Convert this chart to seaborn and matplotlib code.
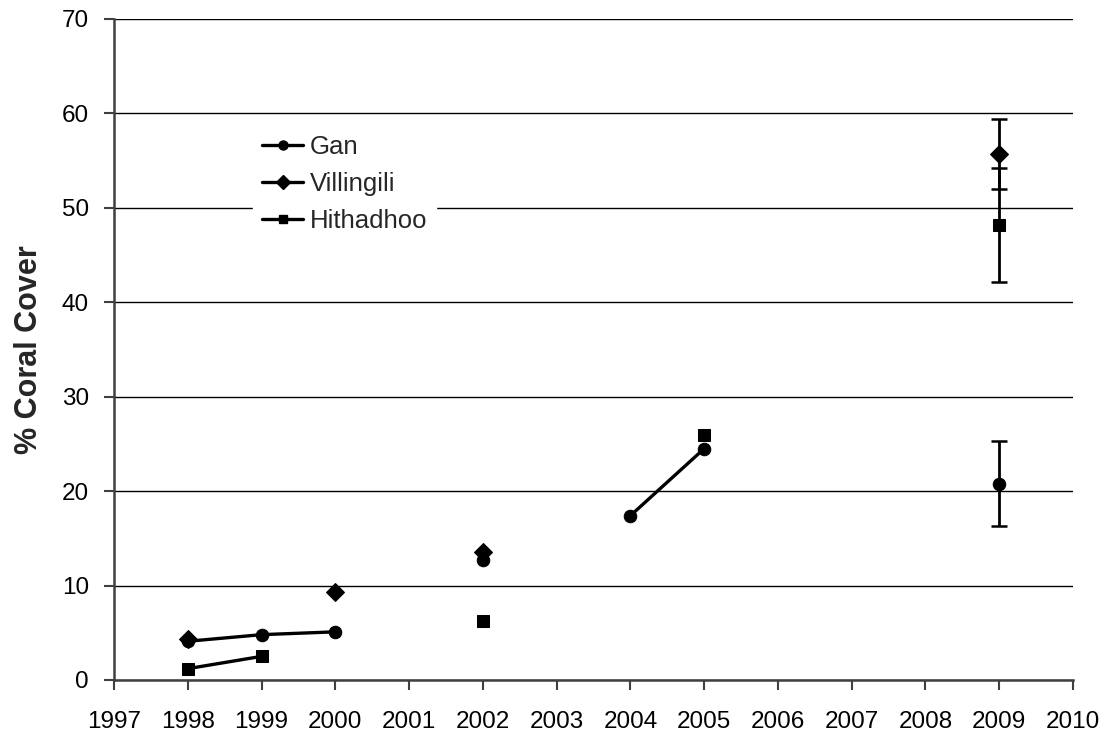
import numpy as np
import pandas as pd
import matplotlib
matplotlib.use("Agg")
import matplotlib.pyplot as plt
from matplotlib.lines import Line2D
import seaborn as sns

sns.set_theme(style="white")
plt.rcParams['font.family'] = ['Liberation Sans', 'DejaVu Sans']

years = [1998, 1999, 2000, 2002, 2004, 2005, 2009]

# Mean % coral cover per site; NaN where a site was not surveyed
gan = [4.1, 4.8, 5.1, 12.7, 17.4, 24.5, 20.8]
villingili = [4.3, np.nan, 9.3, 13.6, np.nan, np.nan, 55.7]
hithadhoo = [1.2, 2.5, np.nan, 6.2, np.nan, 25.9, 48.2]

# Error (+/-) for the 2009 surveys
err_2009 = {"Gan": 4.5, "Villingili": 3.7, "Hithadhoo": 6.0}

sites = ["Gan", "Villingili", "Hithadhoo"]
values = {"Gan": gan, "Villingili": villingili, "Hithadhoo": hithadhoo}
markers = {"Gan": "o", "Villingili": "D", "Hithadhoo": "s"}
msizes = {"Gan": 9, "Villingili": 9, "Hithadhoo": 8.5}

rows = []
for site in sites:
    seg = 0
    prev = None
    for yr, v in zip(years, values[site]):
        if np.isnan(v):
            prev = None
            continue
        # consecutive survey years are joined; gaps start a new segment
        if prev is None or yr - prev > 1:
            seg += 1
        rows.append({"site": site, "year": yr, "cover": v, "seg": seg})
        prev = yr
df = pd.DataFrame(rows)

fig = plt.figure(figsize=(11.11, 7.36), dpi=100)
ax = fig.add_axes([0.1026, 0.0761, 0.8632, 0.8981])

for site in ["Hithadhoo", "Villingili", "Gan"]:
    sub = df[df.site == site]
    sns.lineplot(data=sub, x="year", y="cover", units="seg", estimator=None,
                 color="black", lw=2.4, marker=markers[site],
                 markersize=msizes[site], markeredgecolor="black",
                 markerfacecolor="black", ax=ax, legend=False, zorder=3)
    e = err_2009[site]
    v09 = values[site][years.index(2009)]
    ax.errorbar([2009], [v09], yerr=[e], fmt="none", ecolor="black",
                elinewidth=2, capsize=5.5, capthick=1.8, zorder=2)

ax.set_xlim(1997, 2010)
ax.set_ylim(0, 70)
ax.set_xticks(range(1997, 2011))
ax.set_yticks(range(0, 71, 10))
ax.tick_params(axis="both", labelsize=17.5, colors="#404040", labelcolor="black",
               length=7, width=1.5, direction="out", bottom=True, left=True)
ax.tick_params(axis="y", pad=11)
ax.tick_params(axis="x", pad=15)
ax.grid(axis="y", color="black", lw=1)
ax.set_axisbelow(True)
for s in ["top", "right"]:
    ax.spines[s].set_visible(False)
for s in ["left", "bottom"]:
    ax.spines[s].set_color("#404040")
    ax.spines[s].set_linewidth(1.8)

ax.set_xlabel("")
ax.set_ylabel("% Coral Cover", fontsize=22, fontweight="bold", labelpad=13)

handles = [Line2D([0], [0], color="black", lw=2.4, marker=markers[s],
                  markersize={"Gan": 6.5, "Villingili": 7.5, "Hithadhoo": 6}[s],
                  markerfacecolor="black", markeredgecolor="black")
           for s in sites]
leg = ax.legend(handles, sites, loc="upper left", bbox_to_anchor=(0.145, 0.838),
                frameon=True, fancybox=False, edgecolor="white",
                framealpha=1, fontsize=18.5, handlelength=1.6,
                handletextpad=0.26, labelspacing=0.5, borderpad=0.35,
                borderaxespad=0)
leg.set_zorder(5)

fig.savefig("out.png", dpi=100)
